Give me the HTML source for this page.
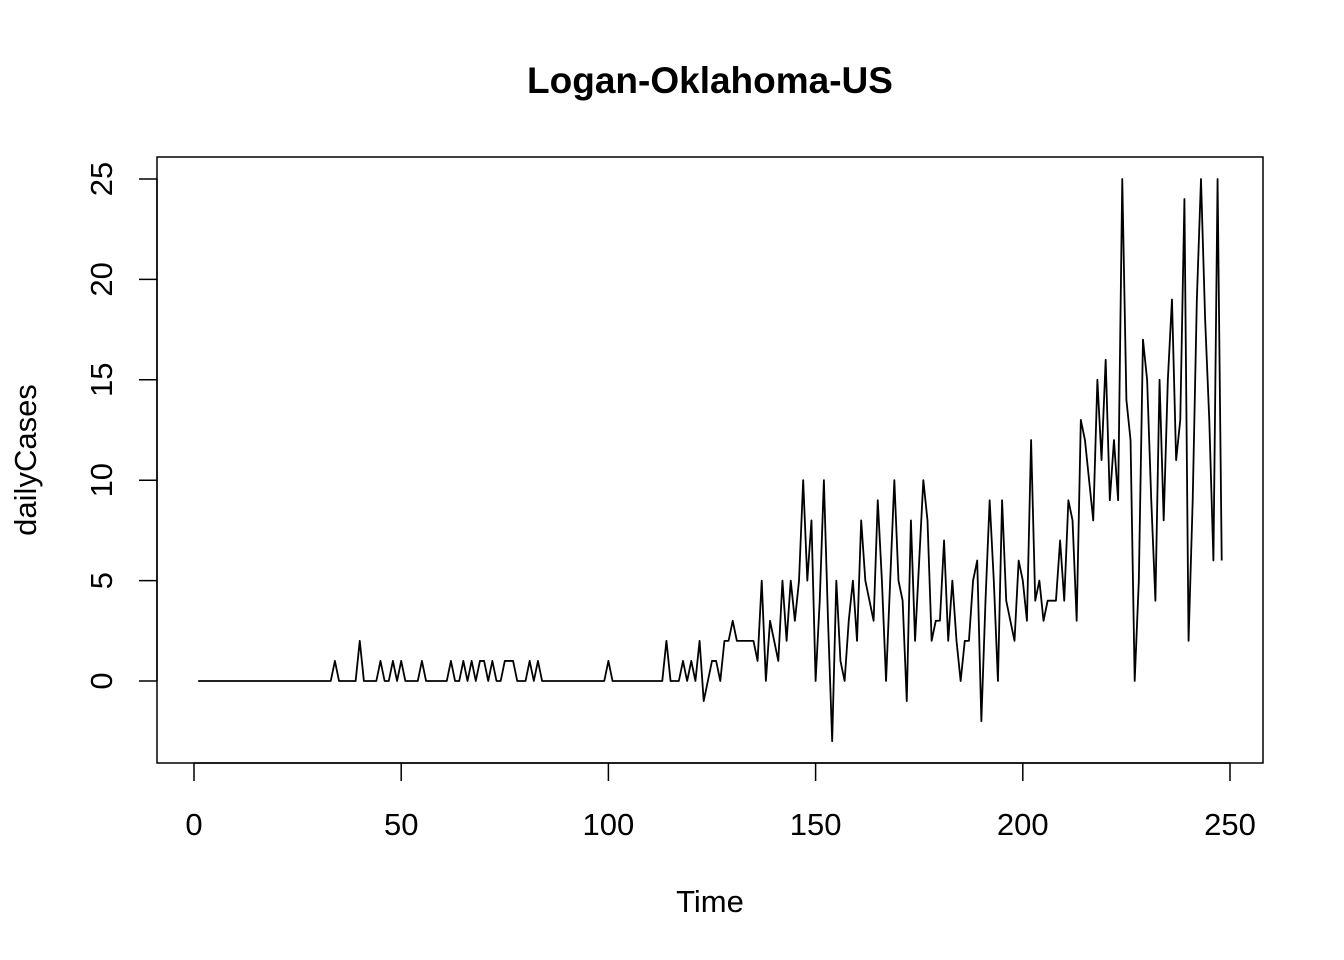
<!DOCTYPE html>
<html><head><meta charset="utf-8"><style>body{margin:0;background:#fff}svg{display:block}text{font-family:"Liberation Sans",Arial,sans-serif;fill:#000}</style></head>
<body>
<svg id="chart" width="1344" height="960" viewBox="0 0 1344 960">
<rect width="1344" height="960" fill="#fff"/>
<text x="710" y="93" font-size="37" font-weight="bold" text-anchor="middle">Logan-Oklahoma-US</text>
<rect x="157" y="157" width="1106" height="606" fill="none" stroke="#000" stroke-width="1.5"/>
<g id="xaxis"></g>
<g id="yaxis"></g>
<text x="710" y="912" font-size="31" text-anchor="middle">Time</text>
<text transform="translate(36,460) rotate(-90)" font-size="31" text-anchor="middle">dailyCases</text>
<g id="series"></g>
</svg>
<script>
const xTicks=[0,50,100,150,200,250];
const yTicks=[0,5,10,15,20,25];
const dailyCases=[
0,0,0,0,0,0,0,0,0,0,
0,0,0,0,0,0,0,0,0,0,
0,0,0,0,0,0,0,0,0,0,
0,0,0,1,0,0,0,0,0,2,
0,0,0,0,1,0,0,1,0,1,
0,0,0,0,1,0,0,0,0,0,
0,1,0,0,1,0,1,0,1,1,
0,1,0,0,1,1,1,0,0,0,
1,0,1,0,0,0,0,0,0,0,
0,0,0,0,0,0,0,0,0,1,
0,0,0,0,0,0,0,0,0,0,
0,0,0,2,0,0,0,1,0,1,
0,2,-1,0,1,1,0,2,2,3,
2,2,2,2,2,1,5,0,3,2,
1,5,2,5,3,5,10,5,8,0,
4,10,3,-3,5,1,0,3,5,2,
8,5,4,3,9,5,0,5,10,5,
4,-1,8,2,6,10,8,2,3,3,
7,2,5,2,0,2,2,5,6,-2,
4,9,5,0,9,4,3,2,6,5,
3,12,4,5,3,4,4,4,7,4,
9,8,3,13,12,10,8,15,11,16,
9,12,9,25,14,12,0,5,17,15,
9,4,15,8,15,19,11,13,24,2,
9,19,25,18,13,6,25,6];
const NS="http://www.w3.org/2000/svg";
function xs(t){return 194+(t)*(1230-194)/250;}
function ys(v){return 681-v*(681-179)/25;}
const xa=document.getElementById('xaxis');
let l=document.createElementNS(NS,'line');


l.setAttribute('x1',xs(xTicks[0]));l.setAttribute('x2',xs(xTicks[xTicks.length-1]));
l.setAttribute('y1',763);l.setAttribute('y2',763);l.setAttribute('stroke','#000');l.setAttribute('stroke-width','1.5');
xa.appendChild(l);
xTicks.forEach(t=>{
  const k=document.createElementNS(NS,'line');
  
  
  k.setAttribute('x1',xs(t));k.setAttribute('x2',xs(t));k.setAttribute('y1',763);k.setAttribute('y2',781);
  k.setAttribute('stroke','#000');k.setAttribute('stroke-width','1.5');xa.appendChild(k);
  const tx=document.createElementNS(NS,'text');
  
  
  tx.setAttribute('x',xs(t));tx.setAttribute('y',835);tx.setAttribute('font-size','31');tx.setAttribute('text-anchor','middle');
  tx.textContent=t;xa.appendChild(tx);
});
const ya=document.getElementById('yaxis');
l=document.createElementNS(NS,'line');


l.setAttribute('x1',157);l.setAttribute('x2',157);
l.setAttribute('y1',ys(yTicks[0]));l.setAttribute('y2',ys(yTicks[yTicks.length-1]));l.setAttribute('stroke','#000');l.setAttribute('stroke-width','1.5');
ya.appendChild(l);
yTicks.forEach(v=>{
  const k=document.createElementNS(NS,'line');
  
  
  k.setAttribute('x1',139);k.setAttribute('x2',157);k.setAttribute('y1',ys(v));k.setAttribute('y2',ys(v));
  k.setAttribute('stroke','#000');k.setAttribute('stroke-width','1.5');ya.appendChild(k);
  const tx=document.createElementNS(NS,'text');
  
  
  tx.setAttribute('transform','translate(112,'+ys(v)+') rotate(-90)');tx.setAttribute('font-size','31');tx.setAttribute('text-anchor','middle');
  tx.textContent=v;ya.appendChild(tx);
});
const p=document.createElementNS(NS,'polyline');


p.setAttribute('points',dailyCases.map((v,i)=>xs(i+1).toFixed(2)+','+ys(v).toFixed(2)).join(' '));
p.setAttribute('fill','none');p.setAttribute('stroke','#000');p.setAttribute('stroke-width','1.8');p.setAttribute('stroke-linejoin','round');
document.getElementById('series').appendChild(p);
</script>
</body></html>
